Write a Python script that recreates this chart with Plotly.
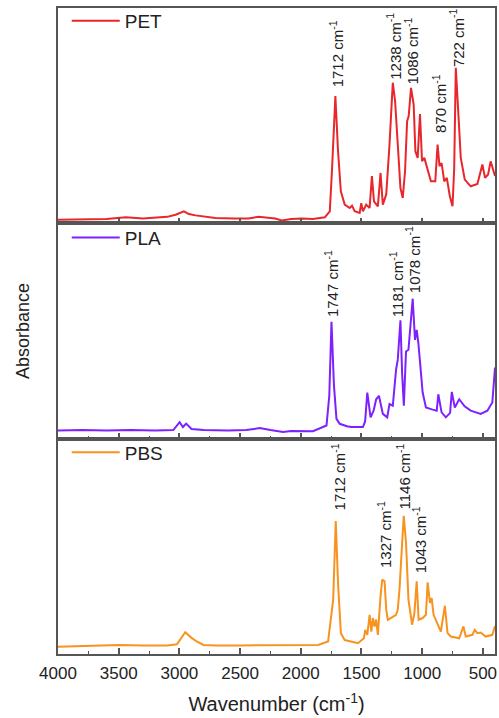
import plotly.graph_objects as go
from plotly.subplots import make_subplots

# ---------------- data (wavenumber in cm^-1, absorbance in a.u.) ----------------
PET_WN = [
    4000, 3800, 3600, 3441, 3300, 3100, 3031, 2963, 2922, 2867,
    2703, 2550, 2430, 2348, 2280, 2211, 2157, 2080, 1993, 1900,
    1802, 1761, 1742, 1715, 1693, 1670, 1638, 1597, 1578, 1556,
    1515, 1502, 1488, 1461, 1433, 1414, 1397, 1365, 1343, 1324,
    1296, 1269, 1242, 1223, 1201, 1179, 1160, 1141, 1124, 1111,
    1092, 1070, 1056, 1037, 1018, 1001, 982, 960, 928, 892,
    873, 857, 840, 818, 797, 772, 750, 736, 723, 703,
    682, 649, 600, 545, 518, 504, 482, 457, 436, 408,
    400]
PET_ABS = [
    0.017, 0.020, 0.020, 0.028, 0.022, 0.030, 0.040, 0.056, 0.043, 0.037,
    0.025, 0.022, 0.022, 0.031, 0.025, 0.022, 0.013, 0.020, 0.022, 0.020,
    0.028, 0.056, 0.257, 0.591, 0.335, 0.149, 0.087, 0.071, 0.082, 0.056,
    0.048, 0.094, 0.056, 0.087, 0.071, 0.219, 0.102, 0.079, 0.234, 0.087,
    0.135, 0.367, 0.653, 0.567, 0.367, 0.164, 0.118, 0.242, 0.474, 0.498,
    0.629, 0.552, 0.335, 0.304, 0.508, 0.288, 0.304, 0.257, 0.195, 0.195,
    0.366, 0.265, 0.280, 0.195, 0.211, 0.126, 0.079, 0.257, 0.722, 0.521,
    0.304, 0.203, 0.172, 0.183, 0.237, 0.273, 0.211, 0.227, 0.288, 0.226,
    0.220]

PLA_WN = [
    4000, 3800, 3600, 3400, 3200, 3050, 2998, 2971, 2944, 2900,
    2800, 2600, 2450, 2338, 2250, 2146, 2080, 2000, 1900, 1788,
    1765, 1747, 1727, 1706, 1679, 1620, 1584, 1488, 1470, 1452,
    1425, 1400, 1379, 1356, 1324, 1288, 1269, 1242, 1215, 1201,
    1179, 1165, 1151, 1133, 1113, 1078, 1059, 1045, 1031, 996,
    969, 914, 880, 867, 840, 805, 770, 756, 740, 731,
    695, 650, 600, 518, 463, 422, 400]
PLA_ABS = [
    0.038, 0.040, 0.038, 0.040, 0.038, 0.040, 0.077, 0.054, 0.070, 0.045,
    0.040, 0.038, 0.040, 0.049, 0.040, 0.031, 0.036, 0.036, 0.035, 0.061,
    0.200, 0.543, 0.250, 0.092, 0.069, 0.058, 0.054, 0.054, 0.080, 0.214,
    0.099, 0.130, 0.183, 0.199, 0.115, 0.099, 0.161, 0.153, 0.321, 0.367,
    0.550, 0.300, 0.153, 0.405, 0.413, 0.650, 0.459, 0.505, 0.443, 0.214,
    0.145, 0.135, 0.130, 0.206, 0.122, 0.099, 0.120, 0.217, 0.160, 0.145,
    0.183, 0.150, 0.130, 0.115, 0.130, 0.168, 0.330]

PBS_WN = [
    4000, 3800, 3500, 3300, 3100, 3020, 2952, 2900, 2857, 2802,
    2700, 2500, 2300, 2100, 1950, 1857, 1775, 1733, 1712, 1693,
    1670, 1638, 1529, 1480, 1469, 1452, 1433, 1419, 1406, 1392,
    1379, 1365, 1343, 1329, 1310, 1296, 1283, 1242, 1215, 1201,
    1187, 1152, 1133, 1113, 1083, 1064, 1045, 1029, 996, 969,
    955, 936, 922, 906, 846, 813, 791, 764, 695, 660,
    641, 586, 567, 545, 518, 477, 422, 400]
PBS_ABS = [
    0.034, 0.036, 0.042, 0.040, 0.040, 0.045, 0.101, 0.075, 0.058, 0.042,
    0.040, 0.040, 0.040, 0.040, 0.040, 0.042, 0.058, 0.252, 0.618, 0.330,
    0.097, 0.065, 0.050, 0.073, 0.112, 0.089, 0.182, 0.104, 0.167, 0.128,
    0.160, 0.089, 0.268, 0.346, 0.338, 0.206, 0.159, 0.174, 0.182, 0.206,
    0.299, 0.642, 0.517, 0.252, 0.136, 0.190, 0.338, 0.159, 0.167, 0.182,
    0.333, 0.237, 0.260, 0.182, 0.104, 0.224, 0.097, 0.081, 0.073, 0.128,
    0.081, 0.089, 0.112, 0.097, 0.100, 0.081, 0.089, 0.130]

SERIES_NAMES = ["PET", "PLA", "PBS"]
PEAK_LABELS = [
    ["1712", "1238", "1086", "870", "722"],
    ["1747", "1181", "1078"],
    ["1712", "1327", "1146", "1043"],
]

# ---------------- styling / placement ----------------
COLORS = ["#e8262b", "#7d22ff", "#f7931e"]
LABEL_ANCHORS = [  # (x in cm^-1, y in a.u.) where each rotated label sits
    [(1709, 0.625), (1236, 0.662), (1092, 0.638), (859, 0.414), (715, 0.722)],
    [(1747, 0.560), (1215, 0.560), (1078, 0.672)],
    [(1693, 0.660), (1310, 0.395), (1152, 0.665), (1023, 0.370)],
]
FONT = "Arial, 'Liberation Sans', sans-serif"
AX = "#555555"
TXT = "#222222"

fig = make_subplots(rows=3, cols=1, shared_xaxes=True, vertical_spacing=0)

data = [(PET_WN, PET_ABS), (PLA_WN, PLA_ABS), (PBS_WN, PBS_ABS)]
legend_ids = ["legend", "legend2", "legend3"]
for i, ((wn, ab), name, col) in enumerate(zip(data, SERIES_NAMES, COLORS)):
    fig.add_trace(
        go.Scatter(x=wn, y=ab, mode="lines", name=name,
                   line=dict(color=col, width=2), legend=legend_ids[i],
                   showlegend=True, hoverinfo="skip"),
        row=i + 1, col=1)

for r in range(1, 4):
    fig.update_xaxes(
        range=[4000, 400], showline=True, mirror=True, linecolor=AX, linewidth=1.5,
        ticks="inside", ticklen=6, tickwidth=1.5, tickcolor=AX,
        tick0=0, dtick=500,
        minor=dict(ticks="inside", ticklen=3, tickwidth=1.2, tickcolor=AX, tick0=0, dtick=250),
        showgrid=False, zeroline=False, row=r, col=1)
    fig.update_yaxes(
        range=[0, 1], showline=True, mirror=True, linecolor=AX, linewidth=1.5,
        ticks="", showticklabels=False, showgrid=False, zeroline=False,
        row=r, col=1)

fig.update_xaxes(showticklabels=True, tickfont=dict(size=17, color=TXT), ticklabelstandoff=3,
                 title=dict(text="Wavenumber (cm<sup>-1</sup>)", font=dict(size=20, color=TXT), standoff=15),
                 row=3, col=1)
fig.update_yaxes(title=dict(text="Absorbance", font=dict(size=18, color=TXT), standoff=22), row=2, col=1)

refs = [("x", "y"), ("x2", "y2"), ("x3", "y3")]
annotations = []
for i in range(3):
    for lbl, (ax_, ay_) in zip(PEAK_LABELS[i], LABEL_ANCHORS[i]):
        annotations.append(dict(
            x=ax_, y=ay_, xref=refs[i][0], yref=refs[i][1],
            text=f"{lbl} cm<sup>-1</sup>", textangle=-90, showarrow=False,
            xanchor="center", yanchor="bottom", borderpad=0,
            font=dict(size=15, color=TXT, family=FONT)))

leg_common = dict(x=0.02, xanchor="left", yanchor="top", bgcolor="rgba(0,0,0,0)",
                  font=dict(size=19, color=TXT), borderwidth=0, itemwidth=48)
fig.update_layout(
    width=499, height=718,
    margin=dict(l=58, r=2, t=7, b=64),
    paper_bgcolor="white", plot_bgcolor="white",
    font=dict(family=FONT, color=TXT),
    annotations=annotations,
    legend=dict(y=1.0093, **leg_common),
    legend2=dict(y=0.6738, **leg_common),
    legend3=dict(y=0.3415, **leg_common),
)

fig.write_html("out.html", config={"displayModeBar": False},
               post_script="document.body.style.margin='0';document.body.style.overflow='hidden';")
